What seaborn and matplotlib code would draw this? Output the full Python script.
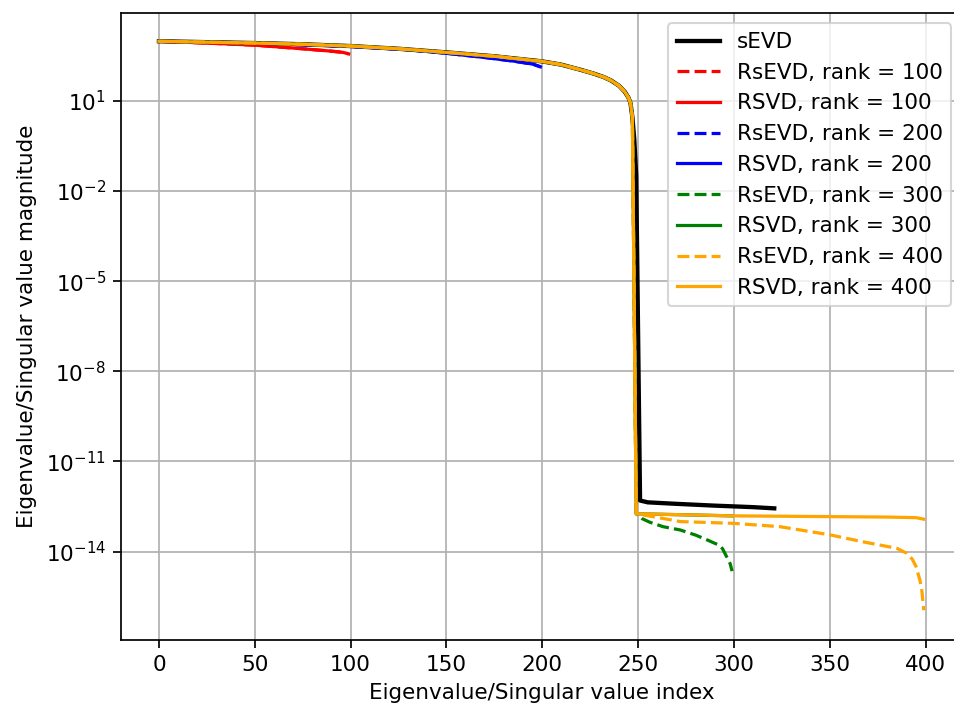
import numpy as np
import matplotlib
matplotlib.use("Agg")
import matplotlib.pyplot as plt
from matplotlib.ticker import NullLocator
import seaborn as sns

# ---- data (log10 of magnitude) ----
# shared leading part of the spectrum (indices 0..247)
top_idx = [0, 25, 50, 75, 100, 125, 150, 175, 200, 210, 220, 227, 232, 236, 240, 243, 245, 246, 247]
top_log = [2.98, 2.95, 2.92, 2.88, 2.82, 2.73, 2.61, 2.48, 2.31, 2.20, 2.03, 1.90, 1.79, 1.67, 1.50, 1.30, 1.10, 0.92, 0.45]

# sEVD drop and tail
sevd_drop_idx = [248, 249]
sevd_drop_log = [-0.30, -1.50]
sevd_tail_idx = [251, 255, 270, 290, 310, 321]
sevd_tail_log = [-12.30, -12.36, -12.41, -12.47, -12.52, -12.56]

# rank 100 (RsEVD and RSVD overlap)
r100_idx = [0, 25, 50, 75, 90, 96, 99]
r100_log = [2.98, 2.92, 2.85, 2.73, 2.65, 2.61, 2.56]

# rank 200 (RsEVD and RSVD overlap)
r200_idx = [0, 50, 100, 130, 150, 170, 185, 195, 199]
r200_log = [2.98, 2.92, 2.81, 2.70, 2.58, 2.44, 2.32, 2.22, 2.13]

# rank 300
rsevd300_tail_idx = [249, 252, 256, 263, 272, 280, 286, 292, 294, 296, 298, 299]
rsevd300_tail_log = [-12.74, -12.90, -13.02, -13.17, -13.28, -13.45, -13.61, -13.78, -13.90, -14.15, -14.40, -14.65]
rsvd300_tail_idx = [249, 299]
rsvd300_tail_log = [-12.74, -12.81]

# rank 400
rsevd400_tail_idx = [249, 258, 272, 300, 324, 350, 367, 385, 390, 393, 395, 397, 398, 399]
rsevd400_tail_log = [-12.74, -12.84, -13.00, -13.06, -13.17, -13.44, -13.67, -13.89, -14.05, -14.25,
                     -14.50, -14.95, -15.30, -15.95]
rsvd400_tail_idx = [249, 300, 380, 395, 399]
rsvd400_tail_log = [-12.74, -12.81, -12.85, -12.87, -12.92]

x_ticks = [0, 50, 100, 150, 200, 250, 300, 350, 400]
y_tick_exps = [1, -2, -5, -8, -11, -14]

# ---- figure ----
S = 1.03
plt.rcParams.update({
    "font.size": 10 * S,
    "xtick.major.size": 3.5 * S, "ytick.major.size": 3.5 * S,
    "xtick.major.width": 0.8 * S, "ytick.major.width": 0.8 * S,
    "axes.linewidth": 0.8 * S,
})
DPI = 150
fig = plt.figure(figsize=(955 / DPI, 709 / DPI), dpi=DPI)
ax = fig.add_axes([120.7 / 955, 1 - 640 / 709, (962 - 120.7) / 955, (640 - 12.7) / 709])


def draw(idx, logs, color, ls, lw, label):
    sns.lineplot(x=np.array(idx, dtype=float), y=10.0 ** np.array(logs), color=color,
                 linestyle=ls, linewidth=lw * S, label=label, ax=ax, estimator=None, sort=False)


draw(top_idx + sevd_drop_idx + sevd_tail_idx, top_log + sevd_drop_log + sevd_tail_log,
     "black", "-", 2.0, "sEVD")
draw(r100_idx, r100_log, "red", "--", 1.5, "RsEVD, rank = 100")
draw(r100_idx, r100_log, "red", "-", 1.5, "RSVD, rank = 100")
draw(r200_idx, r200_log, "blue", "--", 1.5, "RsEVD, rank = 200")
draw(r200_idx, r200_log, "blue", "-", 1.5, "RSVD, rank = 200")
draw(top_idx + rsevd300_tail_idx, top_log + rsevd300_tail_log, "green", "--", 1.5, "RsEVD, rank = 300")
draw(top_idx + rsvd300_tail_idx, top_log + rsvd300_tail_log, "green", "-", 1.5, "RSVD, rank = 300")
draw(top_idx + rsevd400_tail_idx, top_log + rsevd400_tail_log, "orange", "--", 1.5, "RsEVD, rank = 400")
draw(top_idx + rsvd400_tail_idx, top_log + rsvd400_tail_log, "orange", "-", 1.5, "RSVD, rank = 400")

ax.set_yscale("log")
ax.set_xlim(-19.95, 418.95)
ax.set_ylim(10 ** -16.94, 10 ** 3.93)
ax.set_xticks(x_ticks)
ax.set_yticks([10.0 ** e for e in y_tick_exps])
ax.yaxis.set_minor_locator(NullLocator())
ax.grid(True, color="#b0b0b0", linewidth=0.8 * S)
ax.set_axisbelow(True)
ax.set_xlabel("Eigenvalue/Singular value index")
ax.set_ylabel("Eigenvalue/Singular value magnitude")
ax.legend(loc="upper right", fontsize=10 * S)

fig.savefig("out.png", dpi=DPI)
